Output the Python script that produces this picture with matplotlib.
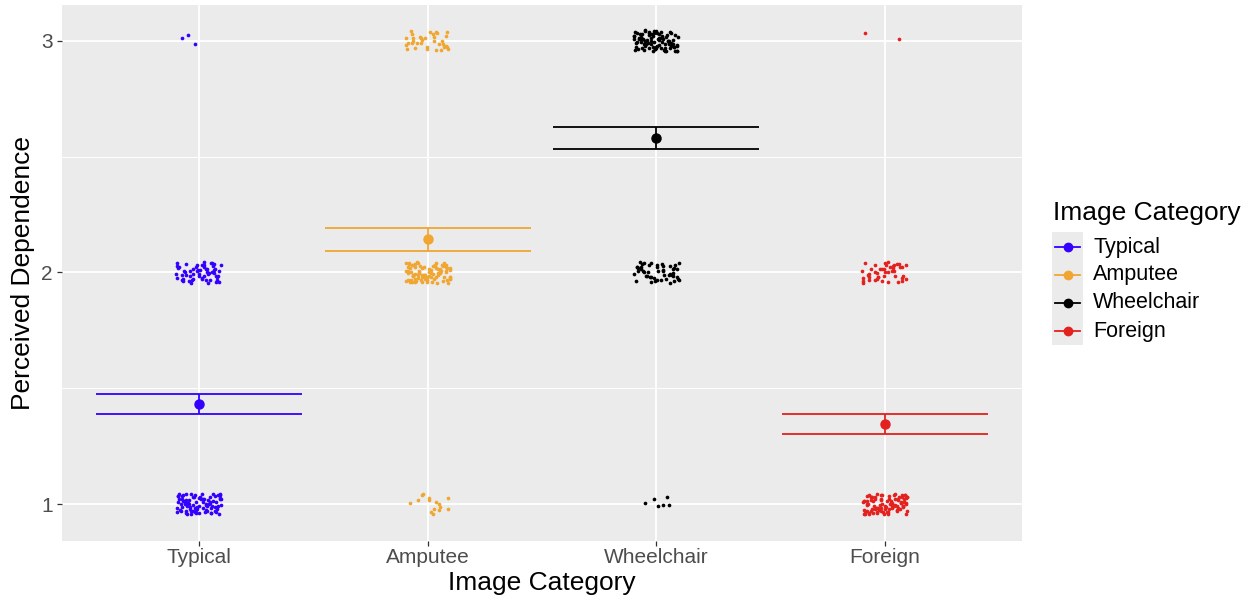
import numpy as np
import matplotlib
matplotlib.use("Agg")
import matplotlib.pyplot as plt
from matplotlib.lines import Line2D
from matplotlib.patches import Rectangle

plt.rcParams["font.family"] = ["Liberation Sans", "DejaVu Sans"]

# Response counts per category at each dependence level (1, 2, 3)
categories = ["Typical", "Amputee", "Wheelchair", "Foreign"]
levels = [1, 2, 3]
counts_typical = [90, 60, 3]
counts_amputee = [15, 90, 35]
counts_wheelchair = [6, 50, 92]
counts_foreign = [95, 45, 2]
colors = ["#3300FF", "#F0A630", "#000000", "#E3211E"]
y_ticks = [1, 2, 3]

all_counts = [counts_typical, counts_amputee, counts_wheelchair, counts_foreign]

W, H = 1252, 600
fig = plt.figure(figsize=(W / 100, H / 100), dpi=100)
left, right, top, bottom = 62, 1022, 5, 540.7
ax = fig.add_axes([left / W, 1 - bottom / H, (right - left) / W, (bottom - top) / H])
ax.set_facecolor("#EBEBEB")
for s in ax.spines.values():
    s.set_visible(False)

ax.set_xlim(0.4, 4.6)
ax.set_ylim(0.842, 3.154)
ax.set_yticks(y_ticks)
ax.set_yticks([1.5, 2.5], minor=True)
ax.set_xticks(range(1, len(categories) + 1))
ax.set_xticklabels(categories)
ax.grid(True, which="major", color="white", lw=1.3, zorder=0)
ax.grid(True, which="minor", axis="y", color="white", lw=0.7, zorder=0)
ax.set_axisbelow(True)
ax.tick_params(axis="both", which="major", length=3.6, width=0.9, color="#333333",
               labelcolor="#4D4D4D", labelsize=15)
ax.tick_params(axis="x", pad=2)
ax.tick_params(axis="y", pad=3)
ax.tick_params(which="minor", length=0)


def spread_offsets(n, start):
    # deterministic 2D spread (Weyl sequences with irrational steps)
    k = np.arange(start, start + n)
    u = (k * 0.7548776662466927 + 0.37 * np.sin(k * 1.7)) % 1.0
    v = (k * 0.5698402909980532 + 0.29 * np.cos(k * 2.3)) % 1.0
    return u, v


jw, jh = 0.1, 0.045
seed_start = 1
for i, (cat, cnts, col) in enumerate(zip(categories, all_counts, colors)):
    xc = i + 1
    values = []
    for lev, n in zip(levels, cnts):
        u, v = spread_offsets(n, seed_start)
        seed_start += n + 7
        ax.scatter(xc + (2 * u - 1) * jw, lev + (2 * v - 1) * jh, s=7, color=col,
                   linewidths=0, zorder=3)
        values += [lev] * n
    values = np.array(values, dtype=float)
    mean = values.mean()
    se = values.std(ddof=1) / np.sqrt(len(values))
    ax.errorbar([xc], [mean], yerr=[se], fmt="o", color=col, ms=6.5, elinewidth=1.3,
                capsize=0, zorder=4)
    ax.hlines([mean - se, mean + se], xc - 0.45, xc + 0.45, color=col, lw=1.3, zorder=4)

ax.set_xlabel("Image Category", fontsize=19, color="black")
ax.xaxis.set_label_coords(0.5, (bottom - 583) / (bottom - top))
ax.xaxis.label.set_va("center")
ax.set_ylabel("Perceived Dependence", fontsize=19, color="black")
ax.yaxis.set_label_coords((23 - left) / (right - left), 0.5)
ax.yaxis.label.set_va("center")


def fp(x, y):
    return x / W, 1 - y / H


# Legend
fig.text(*fp(1053, 213), "Image Category", fontsize=19, ha="left", va="center")
kx0, kx1 = 1052, 1083
row_y = [247, 275, 303, 331]
fig.add_artist(Rectangle(fp(kx0, 345), (kx1 - kx0) / W, (345 - 232) / H,
                         transform=fig.transFigure, facecolor="#EBEBEB", edgecolor="none"))
for cat, col, ry in zip(categories, colors, row_y):
    x0, y0 = fp(kx0 + 3, ry)
    x1, _ = fp(kx1 - 3, ry)
    fig.add_artist(Line2D([x0, x1], [y0, y0], transform=fig.transFigure, color=col, lw=1.3))
    xm, _ = fp((kx0 + kx1) / 2, ry)
    fig.add_artist(Line2D([xm], [y0], transform=fig.transFigure, color=col, marker="o",
                          ms=6, lw=0))
    fig.text(*fp(1093, ry), cat, fontsize=15.5, ha="left", va="center", color="black")

fig.savefig("out.png", dpi=100, facecolor="white")
